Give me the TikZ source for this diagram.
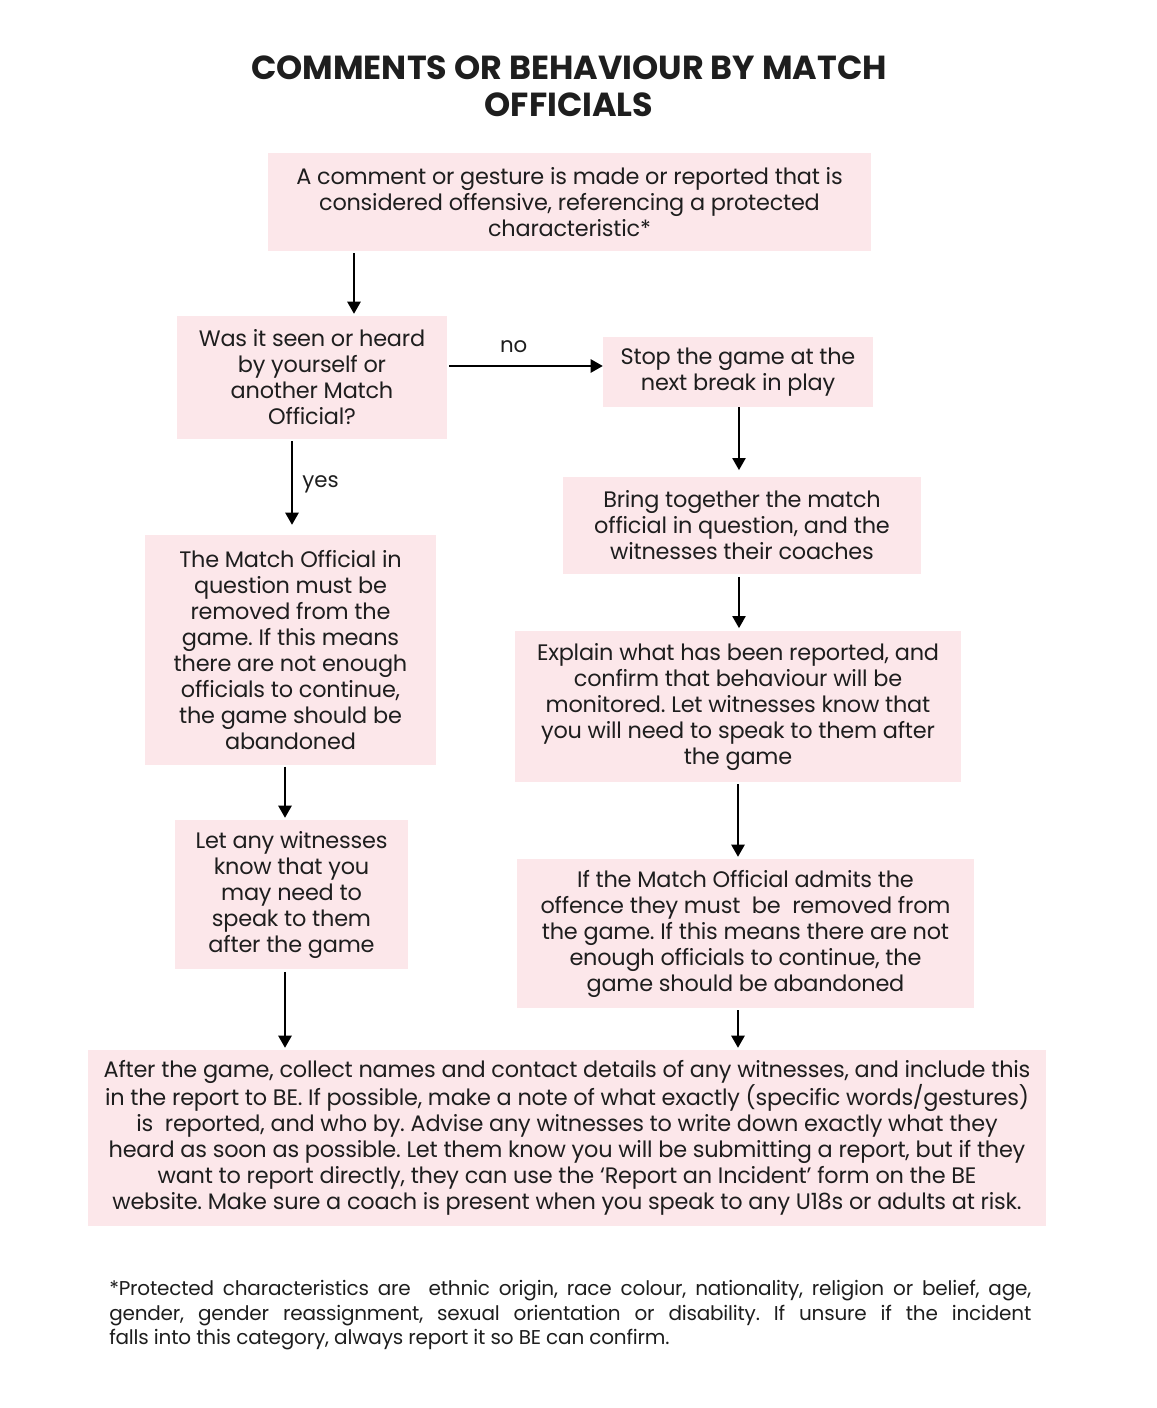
\documentclass[tikz,border=0pt]{standalone}
\usepackage{fontspec}
\setmainfont{Poppins}
\usetikzlibrary{arrows.meta}
\definecolor{boxpink}{RGB}{252,231,234}
\definecolor{ink}{RGB}{30,30,30}
\tikzset{
  box/.style={rectangle, fill=boxpink, inner sep=0pt, align=center, text=ink,
    font=\fontsize{16.8}{19.5}\selectfont\addfontfeature{LetterSpace=-1}\frenchspacing},
  conn/.style={draw=black, line width=1pt, -{Triangle[length=9pt,width=10pt]}},
  lbl/.style={text=ink, font=\fontsize{16}{19.5}\selectfont},
}
\begin{document}
\begin{tikzpicture}[x=0.75pt,y=-0.75pt]
\useasboundingbox (0,0) rectangle (1156,1408);
\node[text=ink, align=center, font=\fontsize{25}{28}\selectfont\bfseries] (title) at (569,86)
  {COMMENTS OR BEHAVIOUR BY MATCH\\OFFICIALS};
\node[box, minimum width=452.25pt, minimum height=73.5pt] (top) at (569.5,202)
  {A comment or gesture is made or reported that is\\considered offensive, referencing a protected\\characteristic*};
\node[box, minimum width=202.5pt, minimum height=92.25pt] (q) at (312,377.5)
  {Was it seen or heard\\by yourself or\\another Match\\Official?};
\node[box, minimum width=202.5pt, minimum height=52.5pt] (stop) at (738,372)
  {Stop the game at the\\next break in play};
\node[box, minimum width=268.5pt, minimum height=72.75pt] (bring) at (742,525.5)
  {Bring together the match\\official in question, and the\\witnesses their coaches};
\node[box, minimum width=334.5pt, minimum height=113.25pt] (explain) at (738,706.5)
  {Explain what has been reported, and\\confirm that behaviour will be\\monitored. Let witnesses know that\\you will need to speak to them after\\the game};
\node[box, minimum width=342.75pt, minimum height=111.75pt] (admit) at (745.5,933.5)
  {If the Match Official admits the\\offence they must\ \ be\ \ removed from\\the game. If this means there are not\\enough officials to continue, the\\game should be abandoned};
\node[box, minimum width=218.25pt, minimum height=172.5pt] (removed) at (290.5,650)
  {The Match Official in\\question must be\\removed from the\\game. If this means\\there are not enough\\officials to continue,\\the game should be\\abandoned};
\node[box, minimum width=174.75pt, minimum height=111.75pt] (let) at (291.5,894.5)
  {Let any witnesses\\know that you\\may need to\\speak to them\\after the game};
\node[box, minimum width=718.5pt, minimum height=132pt] (after) at (567,1138)
  {After the game, collect names and contact details of any witnesses, and include this\\in the report to BE. If possible, make a note of what exactly (specific words/gestures)\\is\ \ reported, and who by. Advise any witnesses to write down exactly what they\\heard as soon as possible. Let them know you will be submitting a report, but if they\\want to report directly, they can use the ‘Report an Incident’ form on the BE\\website. Make sure a coach is present when you speak to any U18s or adults at risk.};
\node[text=ink, text width=691.5pt, align=justify, anchor=north west, inner sep=0pt,
  font=\fontsize{15}{18.4}\selectfont\addfontfeature{LetterSpace=-1}\frenchspacing] (foot) at (109,1280)
  {*Protected characteristics are\ \ ethnic origin, race colour, nationality, religion or belief, age,\linebreak gender, gender reassignment, sexual orientation or disability. If unsure if the incident\linebreak falls into this category, always report it so BE can confirm.};
% connectors
\draw[conn] (top.south -| 354,0) ++(0,2) -- ([yshift=1.5pt]q.north -| 354,0);
\draw[conn] ([xshift=1.5pt]q.east |- 0,366) -- (stop.west |- 0,366)
  node[lbl, pos=0.42, above=6pt] (no) {no};
\draw[conn] ([yshift=-1.5pt]q.south -| 292,0) -- ([yshift=7.5pt]removed.north -| 292,0)
  node[lbl, pos=0.52, right=4pt] (yes) {yes};
\draw[conn] (stop.south -| 739,0) -- ([yshift=5pt]bring.north -| 739,0);
\draw[conn] ([yshift=-2pt]bring.south -| 739,0) -- ([yshift=2pt]explain.north -| 739,0);
\draw[conn] ([yshift=-1.5pt]explain.south -| 738,0) -- ([yshift=1.5pt]admit.north -| 738,0);
\draw[conn] ([yshift=-1pt]removed.south -| 285,0) -- ([yshift=1.5pt]let.north -| 285,0);
\draw[conn] ([yshift=-2pt]let.south -| 285,0) -- ([yshift=1.5pt]after.north -| 285,0);
\draw[conn] ([yshift=-1.5pt]admit.south -| 738,0) -- ([yshift=1.5pt]after.north -| 738,0);
\end{tikzpicture}
\end{document}
